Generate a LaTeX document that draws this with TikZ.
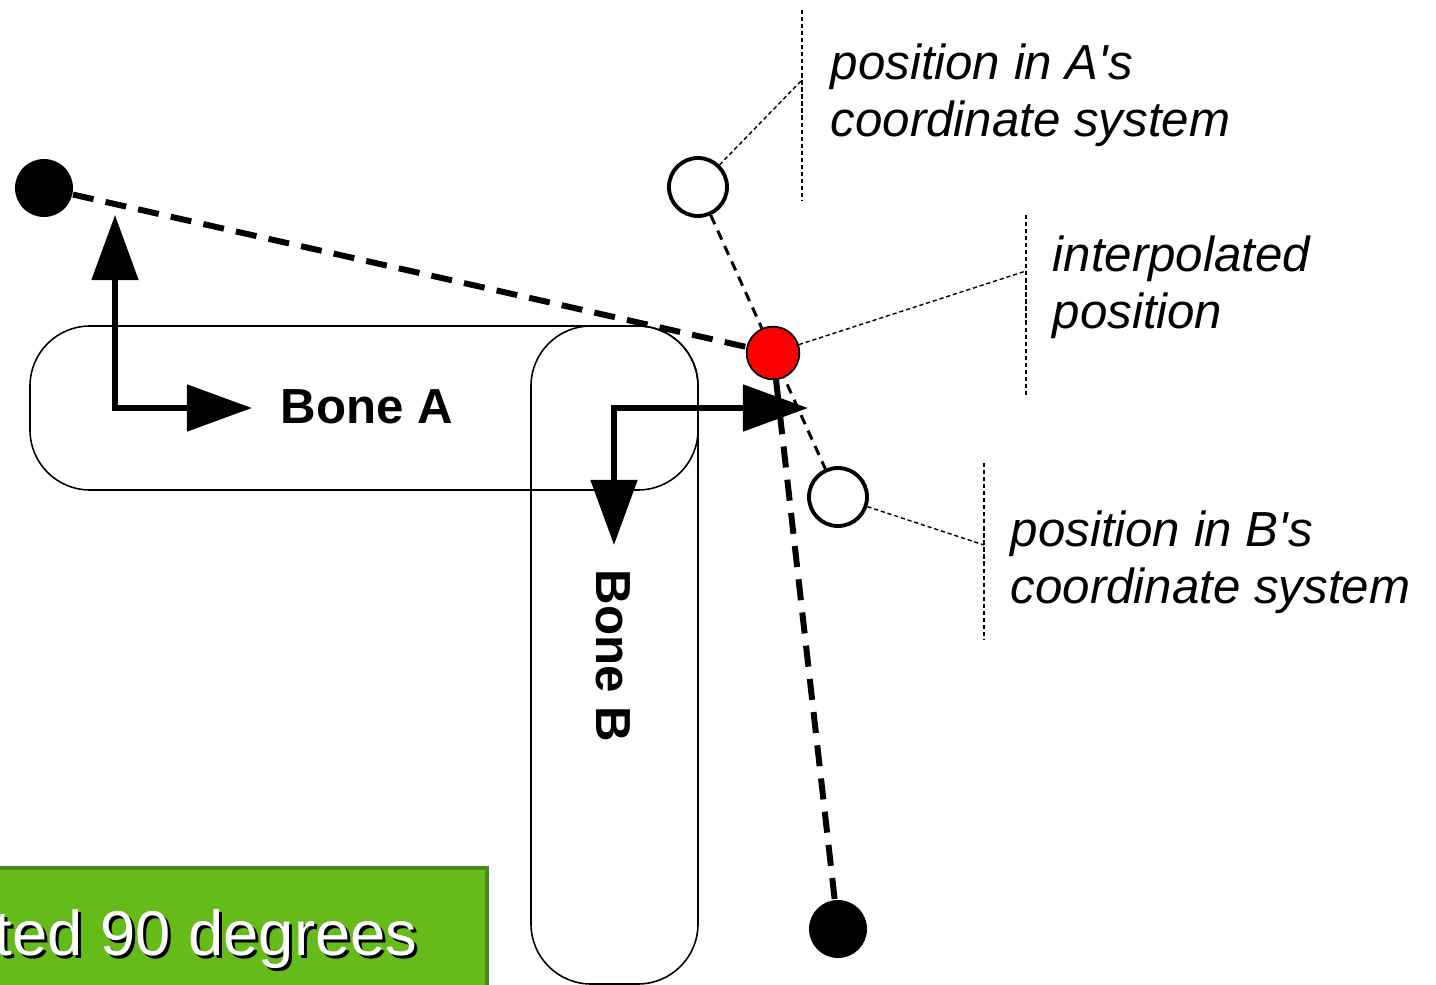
\documentclass[tikz,border=0pt]{standalone}
\usepackage{fontspec}
\setmainfont{Liberation Sans}
\usepackage{tikz}
\usetikzlibrary{arrows.meta,positioning,calc}
\usepackage[dvipsnames,svgnames]{xcolor}
\definecolor{BoxGreen}{HTML}{64BB19}
\definecolor{BoxEdge}{HTML}{4C8A1E}

\begin{document}
\begin{tikzpicture}[x=0.01cm,y=-0.01cm,
    bone/.style={draw,line width=0.45pt,rounded corners=0.6cm},
    axis/.style={line width=1.7pt,-{Triangle[length=18.5pt,width=13pt]}},
    joint/.style={circle,fill=black,minimum size=16.5pt,inner sep=0pt},
    guess/.style={circle,draw,fill=white,line width=1.1pt,minimum size=16.5pt,inner sep=0pt},
    blend/.style={circle,draw,fill=red,line width=0.5pt,minimum size=15pt,inner sep=0pt},
    limb/.style={line width=1.7pt,dash pattern=on 6pt off 3.5pt},
    span/.style={line width=0.85pt,dash pattern=on 2.8pt off 2pt},
    leader/.style={line width=0.4pt,dash pattern=on 1.2pt off 0.8pt},
    note/.style={font=\fontsize{14}{16.2}\selectfont\itshape,align=left,anchor=north west,inner sep=0pt},
    bonelabel/.style={font=\fontsize{14}{16}\selectfont\bfseries,inner sep=0pt}]
  \useasboundingbox (0,0) rectangle (1436,985);
  \clip (0,0) rectangle (1436,985);

  % Green caption bar (runs off the page)
  \fill[BoxGreen] (0,868) rectangle (487,995);
  \draw[BoxEdge,line width=0.9pt] (-5,868) -- (487,868) -- (487,995);
  \node[font=\fontsize{18}{20}\selectfont,inner sep=0pt,anchor=base east,text=black]
    (captionshadow) at (421,958) {ted 90 degrees};
  \node[font=\fontsize{18}{20}\selectfont,inner sep=0pt,anchor=base east,text=white]
    (caption) at (418,955) {ted 90 degrees};

  % The two bones
  \draw[bone] (30,326) rectangle (698,490);
  \draw[bone] (531,326) rectangle (698,984);
  \node[bonelabel,anchor=west] (labelA) at (280,407) {Bone A};
  \node[bonelabel,rotate=-90] (labelB) at (613,656) {Bone B};

  % Local frames
  \coordinate (originA) at (115,408);
  \coordinate (tipAy) at (115,215);
  \coordinate (tipAx) at (252,408);
  \draw[axis] (originA) -- (tipAy);
  \draw[axis] ($(originA)+(-3,0)$) -- (tipAx);
  \coordinate (originB) at (614,408);
  \coordinate (tipBy) at (614,545);
  \coordinate (tipBx) at (808,408);
  \draw[axis] (originB) -- (tipBy);
  \draw[axis] ($(originB)+(-3,0)$) -- (tipBx);

  % Joints and the interpolated point
  \node[joint] (jointA) at (44,188) {};
  \node[joint] (jointB) at (838,929) {};
  \node[guess] (posA) at (698,187) {};
  \node[guess] (posB) at (838,497) {};
  \draw[span] (posA) -- (773,353) -- (posB);
  \node[blend] (mid) at (773,353) {};
  \draw[limb] (jointA) -- (mid);
  \draw[limb] (mid) -- (jointB);

  % Callouts
  \coordinate (barAtop) at (802,10);
  \coordinate (barAbot) at (802,200);
  \coordinate (barAhit) at (802,80);
  \draw[leader] (barAtop) -- (barAbot);
  \draw[leader] (posA) -- (barAhit);
  \node[note] (noteA) at (830,43) {position in A\textquotesingle s\\coordinate system};

  \coordinate (barMtop) at (1026,215);
  \coordinate (barMbot) at (1026,395);
  \coordinate (barMhit) at (1026,271);
  \draw[leader] (barMtop) -- (barMbot);
  \draw[leader] (mid) -- (barMhit);
  \node[note] (noteM) at (1052,235) {interpolated\\position};

  \coordinate (barBtop) at (984,463);
  \coordinate (barBbot) at (984,640);
  \coordinate (barBhit) at (984,545);
  \draw[leader] (barBtop) -- (barBbot);
  \draw[leader] (posB) -- (barBhit);
  \node[note] (noteB) at (1010,510) {position in B\textquotesingle s\\coordinate system};
\end{tikzpicture}
\end{document}
